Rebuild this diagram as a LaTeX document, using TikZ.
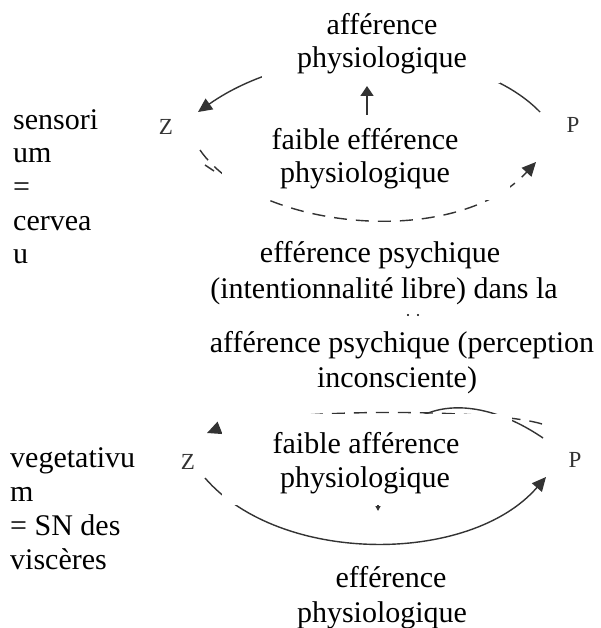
\documentclass[tikz,border=0pt]{standalone}
\usepackage{fontspec}
\setmainfont{Liberation Serif}
\usetikzlibrary{arrows.meta}
\begin{document}
\begin{tikzpicture}[x=1pt,y=-1pt,
  txt/.style={font=\fontsize{30}{34}\selectfont, inner sep=0pt, anchor=base},
  lbl/.style={font=\fontsize{30}{34}\selectfont, inner sep=0pt, anchor=base west},
  zp/.style={font=\fontsize{23}{26}\selectfont, text=black!80, inner sep=0pt},
  ln/.style={line width=1.4pt, draw=black!80},
  dsh/.style={ln, dash pattern=on 13pt off 9pt},
  tip/.style={-{Triangle[length=14pt,width=13pt]}},
  smalltip/.style={-{Triangle[length=5pt,width=5pt]}},
  patch/.style={fill=white, draw=none}]
\useasboundingbox[fill=white] (0,0) rectangle (601,628);

% Z and P
\node[zp] (z1) at (166,127) {Z};
\node[zp] (p1) at (573,125) {P};
\node[zp] (z2) at (188,462) {Z};
\node[zp] (p2) at (575,460) {P};

% top section connectors
\coordinate (a1s) at (540,112);
\coordinate (a1e) at (198,112);
\draw[ln,tip] (a1s) .. controls (470,40) and (300,40) .. (a1e);
\coordinate (b1s) at (200,150);
\coordinate (b1e) at (536,162);
\draw[dsh,tip] (b1s) .. controls (255,230) and (455,250) .. (b1e);
\coordinate (c1s) at (205,165);
\coordinate (c1e) at (214,171);
\draw[ln] (c1s) -- (c1e);
\coordinate (u1s) at (367,125);
\coordinate (u1e) at (367,86);
\draw[ln,-{Triangle[length=10pt,width=13pt]}] (u1s) -- (u1e);

% bottom section connectors
\coordinate (a2s) at (542,424);
\coordinate (a2e) at (207,433);
\draw[dsh,tip] (a2s) .. controls (490,408) and (270,408) .. (a2e);
\coordinate (d2s) at (395,440);
\coordinate (d2e) at (543,438);
\draw[ln] (d2s) .. controls (420,400) and (480,395) .. (d2e);
\coordinate (b2s) at (205,478);
\coordinate (b2e) at (546,477);
\draw[ln,tip] (b2s) .. controls (280,565) and (470,565) .. (b2e);
\coordinate (u2s) at (378,480);
\coordinate (u2e) at (378,511);
\draw[ln,smalltip] (u2s) -- (u2e);

% white patches
\fill[patch] (262,0) rectangle (500,83);
\fill[patch] (222,115) rectangle (510,200);
\fill[patch] (222,414) rectangle (512,505);

% texts
\node[txt] (t1a) at (382,35) {afférence};
\node[txt] (t1b) at (382,68) {physiologique};
\node[txt] (t2a) at (365,150) {faible efférence};
\node[txt] (t2b) at (365,183) {physiologique};
\node[txt] (m1) at (380,262) {efférence psychique};
\node[txt] (m2) at (384,298) {(intentionnalité libre) dans la};
\fill (408,315) circle (1.2pt);
\fill (418,315) circle (1.2pt);
\node[txt] (m3) at (402,352) {afférence psychique (perception};
\node[txt] (m4) at (397,387) {inconsciente)};
\node[txt] (t3a) at (366,453) {faible afférence};
\node[txt] (t3b) at (365,487) {physiologique};
\node[txt] (t4a) at (391,587) {efférence};
\node[txt] (t4b) at (382,622) {physiologique};

% left labels
\node[lbl] (s1) at (13,130) {sensori};
\node[lbl] (s2) at (13,163) {um};
\node[lbl] (s3) at (13,196.5) {=};
\node[lbl] (s4) at (13,230) {cervea};
\node[lbl] (s5) at (13,263) {u};
\node[lbl] (v1) at (10,467) {vegetativu};
\node[lbl] (v2) at (10,501) {m};
\node[lbl] (v3) at (10,535) {= SN des};
\node[lbl] (v4) at (10,569) {viscères};
\end{tikzpicture}
\end{document}
